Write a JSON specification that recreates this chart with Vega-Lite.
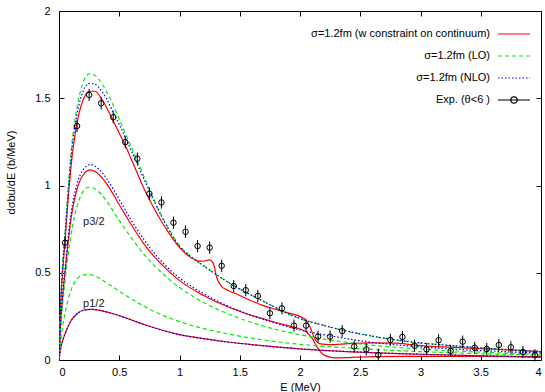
{
  "$schema": "https://vega.github.io/schema/vega-lite/v6.json",
  "width": 482,
  "height": 349,
  "autosize": {"type": "none"},
  "padding": {"left": 59, "top": 11, "right": 4, "bottom": 32},
  "background": "white",
  "config": {
    "view": {"stroke": "black", "strokeWidth": 1},
    "font": "Liberation Sans",
    "axis": {"grid": false, "domainColor": "black", "tickColor": "black", "labelColor": "black", "titleColor": "black", "labelFontSize": 11, "titleFontSize": 11, "titleFontWeight": "normal", "labelFont": "Liberation Sans", "titleFont": "Liberation Sans"},
    "legend": {"labelAlign": "right"}
  },
  "datasets": {
    "names": [
      {"m":"w","name":"σ=1.2fm (w constraint on continuum)"},
      {"m":"LO","name":"σ=1.2fm (LO)"},
      {"m":"NLO","name":"σ=1.2fm (NLO)"},
      {"m":"Exp","name":"Exp. (θ<6 )"}
    ],
    "curves": [
      {"m":"w","g":"tot","E":0,"v":0},{"m":"w","g":"tot","E":0.01,"v":0.25},{"m":"w","g":"tot","E":0.03,"v":0.5},{"m":"w","g":"tot","E":0.05,"v":0.68},{"m":"w","g":"tot","E":0.08,"v":0.96},{"m":"w","g":"tot","E":0.1,"v":1.11},{"m":"w","g":"tot","E":0.15,"v":1.36},{"m":"w","g":"tot","E":0.2,"v":1.49},{"m":"w","g":"tot","E":0.25,"v":1.54},{"m":"w","g":"tot","E":0.3,"v":1.54},{"m":"w","g":"tot","E":0.35,"v":1.5},{"m":"w","g":"tot","E":0.4,"v":1.44},{"m":"w","g":"tot","E":0.45,"v":1.37},{"m":"w","g":"tot","E":0.5,"v":1.3},{"m":"w","g":"tot","E":0.55,"v":1.23},{"m":"w","g":"tot","E":0.6,"v":1.15},{"m":"w","g":"tot","E":0.65,"v":1.07},{"m":"w","g":"tot","E":0.7,"v":0.99},{"m":"w","g":"tot","E":0.75,"v":0.92},{"m":"w","g":"tot","E":0.8,"v":0.855},{"m":"w","g":"tot","E":0.85,"v":0.795},{"m":"w","g":"tot","E":0.9,"v":0.74},{"m":"w","g":"tot","E":0.95,"v":0.69},{"m":"w","g":"tot","E":1.0,"v":0.645},{"m":"w","g":"tot","E":1.05,"v":0.61},{"m":"w","g":"tot","E":1.1,"v":0.585},{"m":"w","g":"tot","E":1.15,"v":0.568},{"m":"w","g":"tot","E":1.2,"v":0.566},{"m":"w","g":"tot","E":1.25,"v":0.574},{"m":"w","g":"tot","E":1.28,"v":0.555},{"m":"w","g":"tot","E":1.31,"v":0.47},{"m":"w","g":"tot","E":1.35,"v":0.42},{"m":"w","g":"tot","E":1.4,"v":0.4},{"m":"w","g":"tot","E":1.5,"v":0.37},{"m":"w","g":"tot","E":1.6,"v":0.338},{"m":"w","g":"tot","E":1.7,"v":0.31},{"m":"w","g":"tot","E":1.8,"v":0.29},{"m":"w","g":"tot","E":1.9,"v":0.27},{"m":"w","g":"tot","E":2.0,"v":0.25},{"m":"w","g":"tot","E":2.05,"v":0.228},{"m":"w","g":"tot","E":2.08,"v":0.195},{"m":"w","g":"tot","E":2.12,"v":0.125},{"m":"w","g":"tot","E":2.17,"v":0.092},{"m":"w","g":"tot","E":2.25,"v":0.088},{"m":"w","g":"tot","E":2.4,"v":0.094},{"m":"w","g":"tot","E":2.6,"v":0.098},{"m":"w","g":"tot","E":2.8,"v":0.097},{"m":"w","g":"tot","E":2.9,"v":0.09},{"m":"w","g":"tot","E":3.0,"v":0.082},{"m":"w","g":"tot","E":3.2,"v":0.075},{"m":"w","g":"tot","E":3.5,"v":0.065},{"m":"w","g":"tot","E":3.8,"v":0.055},{"m":"w","g":"tot","E":4.0,"v":0.048},

      {"m":"LO","g":"tot","E":0,"v":0},{"m":"LO","g":"tot","E":0.01,"v":0.27},{"m":"LO","g":"tot","E":0.03,"v":0.55},{"m":"LO","g":"tot","E":0.05,"v":0.73},{"m":"LO","g":"tot","E":0.08,"v":1.02},{"m":"LO","g":"tot","E":0.1,"v":1.19},{"m":"LO","g":"tot","E":0.15,"v":1.45},{"m":"LO","g":"tot","E":0.2,"v":1.59},{"m":"LO","g":"tot","E":0.25,"v":1.64},{"m":"LO","g":"tot","E":0.3,"v":1.63},{"m":"LO","g":"tot","E":0.35,"v":1.59},{"m":"LO","g":"tot","E":0.4,"v":1.53},{"m":"LO","g":"tot","E":0.45,"v":1.46},{"m":"LO","g":"tot","E":0.5,"v":1.38},{"m":"LO","g":"tot","E":0.6,"v":1.22},{"m":"LO","g":"tot","E":0.7,"v":1.06},{"m":"LO","g":"tot","E":0.8,"v":0.9},{"m":"LO","g":"tot","E":0.9,"v":0.765},{"m":"LO","g":"tot","E":1.0,"v":0.655},{"m":"LO","g":"tot","E":1.1,"v":0.59},{"m":"LO","g":"tot","E":1.2,"v":0.54},{"m":"LO","g":"tot","E":1.3,"v":0.492},{"m":"LO","g":"tot","E":1.4,"v":0.447},{"m":"LO","g":"tot","E":1.5,"v":0.407},{"m":"LO","g":"tot","E":1.6,"v":0.37},{"m":"LO","g":"tot","E":1.7,"v":0.335},{"m":"LO","g":"tot","E":1.8,"v":0.3},{"m":"LO","g":"tot","E":1.9,"v":0.265},{"m":"LO","g":"tot","E":2.0,"v":0.237},{"m":"LO","g":"tot","E":2.2,"v":0.197},{"m":"LO","g":"tot","E":2.4,"v":0.163},{"m":"LO","g":"tot","E":2.6,"v":0.136},{"m":"LO","g":"tot","E":2.8,"v":0.114},{"m":"LO","g":"tot","E":3.0,"v":0.097},{"m":"LO","g":"tot","E":3.2,"v":0.085},{"m":"LO","g":"tot","E":3.5,"v":0.07},{"m":"LO","g":"tot","E":3.8,"v":0.056},{"m":"LO","g":"tot","E":4.0,"v":0.048},

      {"m":"NLO","g":"tot","E":0,"v":0},{"m":"NLO","g":"tot","E":0.01,"v":0.26},{"m":"NLO","g":"tot","E":0.03,"v":0.53},{"m":"NLO","g":"tot","E":0.05,"v":0.71},{"m":"NLO","g":"tot","E":0.08,"v":1.0},{"m":"NLO","g":"tot","E":0.1,"v":1.16},{"m":"NLO","g":"tot","E":0.15,"v":1.41},{"m":"NLO","g":"tot","E":0.2,"v":1.54},{"m":"NLO","g":"tot","E":0.25,"v":1.585},{"m":"NLO","g":"tot","E":0.3,"v":1.58},{"m":"NLO","g":"tot","E":0.35,"v":1.545},{"m":"NLO","g":"tot","E":0.4,"v":1.49},{"m":"NLO","g":"tot","E":0.45,"v":1.42},{"m":"NLO","g":"tot","E":0.5,"v":1.35},{"m":"NLO","g":"tot","E":0.6,"v":1.2},{"m":"NLO","g":"tot","E":0.7,"v":1.045},{"m":"NLO","g":"tot","E":0.8,"v":0.895},{"m":"NLO","g":"tot","E":0.9,"v":0.76},{"m":"NLO","g":"tot","E":1.0,"v":0.652},{"m":"NLO","g":"tot","E":1.1,"v":0.59},{"m":"NLO","g":"tot","E":1.2,"v":0.54},{"m":"NLO","g":"tot","E":1.3,"v":0.492},{"m":"NLO","g":"tot","E":1.4,"v":0.447},{"m":"NLO","g":"tot","E":1.5,"v":0.407},{"m":"NLO","g":"tot","E":1.6,"v":0.37},{"m":"NLO","g":"tot","E":1.7,"v":0.335},{"m":"NLO","g":"tot","E":1.8,"v":0.3},{"m":"NLO","g":"tot","E":1.9,"v":0.266},{"m":"NLO","g":"tot","E":2.0,"v":0.238},{"m":"NLO","g":"tot","E":2.2,"v":0.198},{"m":"NLO","g":"tot","E":2.4,"v":0.164},{"m":"NLO","g":"tot","E":2.6,"v":0.137},{"m":"NLO","g":"tot","E":2.8,"v":0.115},{"m":"NLO","g":"tot","E":3.0,"v":0.098},{"m":"NLO","g":"tot","E":3.2,"v":0.086},{"m":"NLO","g":"tot","E":3.5,"v":0.07},{"m":"NLO","g":"tot","E":3.8,"v":0.056},{"m":"NLO","g":"tot","E":4.0,"v":0.048},

      {"m":"w","g":"p32","E":0,"v":0},{"m":"w","g":"p32","E":0.01,"v":0.16},{"m":"w","g":"p32","E":0.03,"v":0.36},{"m":"w","g":"p32","E":0.05,"v":0.5},{"m":"w","g":"p32","E":0.1,"v":0.81},{"m":"w","g":"p32","E":0.15,"v":0.98},{"m":"w","g":"p32","E":0.2,"v":1.06},{"m":"w","g":"p32","E":0.26,"v":1.09},{"m":"w","g":"p32","E":0.3,"v":1.08},{"m":"w","g":"p32","E":0.35,"v":1.05},{"m":"w","g":"p32","E":0.4,"v":1.005},{"m":"w","g":"p32","E":0.5,"v":0.89},{"m":"w","g":"p32","E":0.6,"v":0.775},{"m":"w","g":"p32","E":0.7,"v":0.67},{"m":"w","g":"p32","E":0.8,"v":0.585},{"m":"w","g":"p32","E":0.9,"v":0.515},{"m":"w","g":"p32","E":1.0,"v":0.455},{"m":"w","g":"p32","E":1.2,"v":0.37},{"m":"w","g":"p32","E":1.4,"v":0.305},{"m":"w","g":"p32","E":1.6,"v":0.255},{"m":"w","g":"p32","E":1.8,"v":0.215},{"m":"w","g":"p32","E":1.9,"v":0.197},{"m":"w","g":"p32","E":2.0,"v":0.178},{"m":"w","g":"p32","E":2.05,"v":0.162},{"m":"w","g":"p32","E":2.1,"v":0.125},{"m":"w","g":"p32","E":2.15,"v":0.065},{"m":"w","g":"p32","E":2.2,"v":0.028},{"m":"w","g":"p32","E":2.3,"v":0.012},{"m":"w","g":"p32","E":2.4,"v":0.014},{"m":"w","g":"p32","E":2.6,"v":0.019},{"m":"w","g":"p32","E":3.0,"v":0.021},{"m":"w","g":"p32","E":3.5,"v":0.02},{"m":"w","g":"p32","E":4.0,"v":0.018},

      {"m":"NLO","g":"p32","E":0,"v":0},{"m":"NLO","g":"p32","E":0.01,"v":0.17},{"m":"NLO","g":"p32","E":0.03,"v":0.37},{"m":"NLO","g":"p32","E":0.05,"v":0.52},{"m":"NLO","g":"p32","E":0.1,"v":0.84},{"m":"NLO","g":"p32","E":0.15,"v":1.01},{"m":"NLO","g":"p32","E":0.2,"v":1.09},{"m":"NLO","g":"p32","E":0.26,"v":1.12},{"m":"NLO","g":"p32","E":0.3,"v":1.11},{"m":"NLO","g":"p32","E":0.35,"v":1.08},{"m":"NLO","g":"p32","E":0.4,"v":1.035},{"m":"NLO","g":"p32","E":0.5,"v":0.92},{"m":"NLO","g":"p32","E":0.6,"v":0.8},{"m":"NLO","g":"p32","E":0.7,"v":0.695},{"m":"NLO","g":"p32","E":0.8,"v":0.605},{"m":"NLO","g":"p32","E":0.9,"v":0.53},{"m":"NLO","g":"p32","E":1.0,"v":0.47},{"m":"NLO","g":"p32","E":1.2,"v":0.38},{"m":"NLO","g":"p32","E":1.4,"v":0.31},{"m":"NLO","g":"p32","E":1.6,"v":0.255},{"m":"NLO","g":"p32","E":1.8,"v":0.21},{"m":"NLO","g":"p32","E":2.0,"v":0.172},{"m":"NLO","g":"p32","E":2.2,"v":0.145},{"m":"NLO","g":"p32","E":2.5,"v":0.11},{"m":"NLO","g":"p32","E":3.0,"v":0.075},{"m":"NLO","g":"p32","E":3.5,"v":0.054},{"m":"NLO","g":"p32","E":4.0,"v":0.04},

      {"m":"LO","g":"p32","E":0,"v":0},{"m":"LO","g":"p32","E":0.01,"v":0.14},{"m":"LO","g":"p32","E":0.03,"v":0.32},{"m":"LO","g":"p32","E":0.05,"v":0.45},{"m":"LO","g":"p32","E":0.1,"v":0.72},{"m":"LO","g":"p32","E":0.15,"v":0.88},{"m":"LO","g":"p32","E":0.2,"v":0.965},{"m":"LO","g":"p32","E":0.25,"v":0.99},{"m":"LO","g":"p32","E":0.3,"v":0.98},{"m":"LO","g":"p32","E":0.35,"v":0.95},{"m":"LO","g":"p32","E":0.4,"v":0.905},{"m":"LO","g":"p32","E":0.5,"v":0.8},{"m":"LO","g":"p32","E":0.6,"v":0.7},{"m":"LO","g":"p32","E":0.7,"v":0.61},{"m":"LO","g":"p32","E":0.8,"v":0.535},{"m":"LO","g":"p32","E":0.9,"v":0.47},{"m":"LO","g":"p32","E":1.0,"v":0.415},{"m":"LO","g":"p32","E":1.2,"v":0.33},{"m":"LO","g":"p32","E":1.4,"v":0.265},{"m":"LO","g":"p32","E":1.6,"v":0.215},{"m":"LO","g":"p32","E":1.8,"v":0.175},{"m":"LO","g":"p32","E":2.0,"v":0.145},{"m":"LO","g":"p32","E":2.2,"v":0.12},{"m":"LO","g":"p32","E":2.5,"v":0.092},{"m":"LO","g":"p32","E":3.0,"v":0.063},{"m":"LO","g":"p32","E":3.5,"v":0.045},{"m":"LO","g":"p32","E":4.0,"v":0.033},

      {"m":"LO","g":"p12","E":0,"v":0},{"m":"LO","g":"p12","E":0.01,"v":0.08},{"m":"LO","g":"p12","E":0.03,"v":0.19},{"m":"LO","g":"p12","E":0.05,"v":0.27},{"m":"LO","g":"p12","E":0.1,"v":0.4},{"m":"LO","g":"p12","E":0.15,"v":0.465},{"m":"LO","g":"p12","E":0.2,"v":0.488},{"m":"LO","g":"p12","E":0.25,"v":0.49},{"m":"LO","g":"p12","E":0.3,"v":0.48},{"m":"LO","g":"p12","E":0.4,"v":0.44},{"m":"LO","g":"p12","E":0.5,"v":0.395},{"m":"LO","g":"p12","E":0.6,"v":0.35},{"m":"LO","g":"p12","E":0.7,"v":0.31},{"m":"LO","g":"p12","E":0.8,"v":0.275},{"m":"LO","g":"p12","E":0.9,"v":0.245},{"m":"LO","g":"p12","E":1.0,"v":0.22},{"m":"LO","g":"p12","E":1.2,"v":0.18},{"m":"LO","g":"p12","E":1.4,"v":0.15},{"m":"LO","g":"p12","E":1.6,"v":0.125},{"m":"LO","g":"p12","E":1.8,"v":0.105},{"m":"LO","g":"p12","E":2.0,"v":0.09},{"m":"LO","g":"p12","E":2.5,"v":0.065},{"m":"LO","g":"p12","E":3.0,"v":0.048},{"m":"LO","g":"p12","E":3.5,"v":0.036},{"m":"LO","g":"p12","E":4.0,"v":0.028},

      {"m":"w","g":"p12","E":0,"v":0},{"m":"w","g":"p12","E":0.01,"v":0.05},{"m":"w","g":"p12","E":0.03,"v":0.11},{"m":"w","g":"p12","E":0.05,"v":0.15},{"m":"w","g":"p12","E":0.1,"v":0.225},{"m":"w","g":"p12","E":0.15,"v":0.265},{"m":"w","g":"p12","E":0.2,"v":0.285},{"m":"w","g":"p12","E":0.27,"v":0.29},{"m":"w","g":"p12","E":0.35,"v":0.283},{"m":"w","g":"p12","E":0.45,"v":0.265},{"m":"w","g":"p12","E":0.55,"v":0.242},{"m":"w","g":"p12","E":0.7,"v":0.205},{"m":"w","g":"p12","E":0.85,"v":0.172},{"m":"w","g":"p12","E":1.0,"v":0.145},{"m":"w","g":"p12","E":1.2,"v":0.122},{"m":"w","g":"p12","E":1.4,"v":0.103},{"m":"w","g":"p12","E":1.6,"v":0.088},{"m":"w","g":"p12","E":1.8,"v":0.075},{"m":"w","g":"p12","E":2.0,"v":0.064},{"m":"w","g":"p12","E":2.5,"v":0.045},{"m":"w","g":"p12","E":3.0,"v":0.033},{"m":"w","g":"p12","E":3.5,"v":0.024},{"m":"w","g":"p12","E":4.0,"v":0.017},

      {"m":"NLO","g":"p12","E":0,"v":0},{"m":"NLO","g":"p12","E":0.01,"v":0.05},{"m":"NLO","g":"p12","E":0.03,"v":0.11},{"m":"NLO","g":"p12","E":0.05,"v":0.15},{"m":"NLO","g":"p12","E":0.1,"v":0.225},{"m":"NLO","g":"p12","E":0.15,"v":0.265},{"m":"NLO","g":"p12","E":0.2,"v":0.285},{"m":"NLO","g":"p12","E":0.27,"v":0.29},{"m":"NLO","g":"p12","E":0.35,"v":0.283},{"m":"NLO","g":"p12","E":0.45,"v":0.265},{"m":"NLO","g":"p12","E":0.55,"v":0.242},{"m":"NLO","g":"p12","E":0.7,"v":0.205},{"m":"NLO","g":"p12","E":0.85,"v":0.172},{"m":"NLO","g":"p12","E":1.0,"v":0.145},{"m":"NLO","g":"p12","E":1.2,"v":0.122},{"m":"NLO","g":"p12","E":1.4,"v":0.103},{"m":"NLO","g":"p12","E":1.6,"v":0.088},{"m":"NLO","g":"p12","E":1.8,"v":0.075},{"m":"NLO","g":"p12","E":2.0,"v":0.064},{"m":"NLO","g":"p12","E":2.5,"v":0.045},{"m":"NLO","g":"p12","E":3.0,"v":0.033},{"m":"NLO","g":"p12","E":3.5,"v":0.024},{"m":"NLO","g":"p12","E":4.0,"v":0.017}
    ],
    "exp": [
      {"m":"Exp","E":0.05,"v":0.672,"err":0.035},{"m":"Exp","E":0.15,"v":1.341,"err":0.035},{"m":"Exp","E":0.25,"v":1.519,"err":0.035},{"m":"Exp","E":0.35,"v":1.471,"err":0.035},{"m":"Exp","E":0.45,"v":1.391,"err":0.035},{"m":"Exp","E":0.55,"v":1.248,"err":0.035},{"m":"Exp","E":0.65,"v":1.154,"err":0.035},{"m":"Exp","E":0.75,"v":0.953,"err":0.035},{"m":"Exp","E":0.85,"v":0.903,"err":0.035},{"m":"Exp","E":0.95,"v":0.787,"err":0.035},
      {"m":"Exp","E":1.05,"v":0.735,"err":0.035},{"m":"Exp","E":1.15,"v":0.653,"err":0.035},{"m":"Exp","E":1.25,"v":0.644,"err":0.035},{"m":"Exp","E":1.35,"v":0.54,"err":0.035},{"m":"Exp","E":1.45,"v":0.424,"err":0.035},{"m":"Exp","E":1.55,"v":0.4,"err":0.035},{"m":"Exp","E":1.65,"v":0.367,"err":0.035},{"m":"Exp","E":1.75,"v":0.268,"err":0.035},{"m":"Exp","E":1.85,"v":0.296,"err":0.035},{"m":"Exp","E":1.95,"v":0.197,"err":0.035},
      {"m":"Exp","E":2.05,"v":0.197,"err":0.035},{"m":"Exp","E":2.15,"v":0.134,"err":0.035},{"m":"Exp","E":2.25,"v":0.134,"err":0.035},{"m":"Exp","E":2.35,"v":0.166,"err":0.035},{"m":"Exp","E":2.45,"v":0.078,"err":0.035},{"m":"Exp","E":2.55,"v":0.061,"err":0.035},{"m":"Exp","E":2.65,"v":0.029,"err":0.035},{"m":"Exp","E":2.75,"v":0.115,"err":0.035},{"m":"Exp","E":2.85,"v":0.132,"err":0.035},{"m":"Exp","E":2.95,"v":0.082,"err":0.035},
      {"m":"Exp","E":3.05,"v":0.061,"err":0.035},{"m":"Exp","E":3.15,"v":0.113,"err":0.035},{"m":"Exp","E":3.25,"v":0.052,"err":0.035},{"m":"Exp","E":3.35,"v":0.105,"err":0.035},{"m":"Exp","E":3.45,"v":0.07,"err":0.035},{"m":"Exp","E":3.55,"v":0.063,"err":0.035},{"m":"Exp","E":3.65,"v":0.086,"err":0.035},{"m":"Exp","E":3.75,"v":0.073,"err":0.035},{"m":"Exp","E":3.85,"v":0.046,"err":0.035},{"m":"Exp","E":3.95,"v":0.027,"err":0.035}
    ],
    "labels": [
      {"E":0.2,"v":0.79,"t":"p3/2"},
      {"E":0.2,"v":0.32,"t":"p1/2"}
    ]
  },
  "layer": [
    {
      "data": {"name": "curves"},
      "transform": [{"filter": "datum.m == 'w'"}, {"lookup": "m", "from": {"data": {"name": "names"}, "key": "m", "fields": ["name"]}}],
      "mark": {"type": "line", "interpolate": "monotone", "strokeWidth": 1.2, "clip": true},
      "encoding": {
        "x": {"field": "E", "type": "quantitative", "scale": {"domain": [0, 4], "nice": false},
              "axis": {"orient": "bottom", "title": "E (MeV)", "values": [0,0.5,1,1.5,2,2.5,3,3.5,4], "format": "~g", "tickSize": -5, "labelPadding": 11, "titlePadding": 4, "domain": false}},
        "y": {"field": "v", "type": "quantitative", "scale": {"domain": [0, 2], "nice": false},
              "axis": {"orient": "left", "title": "dσbu/dE (b/MeV)", "titleY": 161, "values": [0,0.5,1,1.5,2], "format": "~g", "tickSize": -5, "labelPadding": 14, "titlePadding": 18, "domain": false}},
        "color": {"field": "name", "type": "nominal",
                  "scale": {"domain": ["σ=1.2fm (w constraint on continuum)","σ=1.2fm (LO)","σ=1.2fm (NLO)","Exp. (θ<6 )"], "range": ["#ff0000","#00ee00","#0000ff","#000000"]},
                  "legend": {"orient": "none", "legendX": 241, "legendY": 6, "title": null, "padding": 0,
                             "labelFontSize": 11, "labelFont": "Liberation Sans", "labelColor": "black",
                             "symbolType": "stroke", "symbolSize": 1024, "symbolStrokeWidth": 1.2, "labelAlign": "right",
                             "labelOffset": -41, "symbolOffset": 197, "rowPadding": -10, "labelLimit": 400,
                             "encode": {
                               "labels": {"update": {"align": {"value": "right"}}},
                               "symbols": {"update": {
                               "shape": {"signal": "datum.value=='Exp. (θ<6 )' ? 'M-1,0H1M0.2,0A0.2,0.2,0,1,1,-0.2,0A0.2,0.2,0,1,1,0.2,0' : 'stroke'"},
                               "strokeDash": {"signal": "datum.value=='σ=1.2fm (LO)' ? [4,3] : datum.value=='σ=1.2fm (NLO)' ? [1.5,2] : [1,0]"},
                               "fill": {"value": "transparent"}}}}}},
        "detail": {"field": "g"}
      }
    },
    {
      "data": {"name": "curves"},
      "transform": [{"filter": "datum.m == 'LO'"}, {"lookup": "m", "from": {"data": {"name": "names"}, "key": "m", "fields": ["name"]}}],
      "mark": {"type": "line", "interpolate": "monotone", "strokeWidth": 1.2, "clip": true, "strokeDash": [4, 3]},
      "encoding": {
        "x": {"field": "E", "type": "quantitative", "axis": null},
        "y": {"field": "v", "type": "quantitative", "axis": null},
        "color": {"field": "name", "type": "nominal"},
        "detail": {"field": "g"}
      }
    },
    {
      "data": {"name": "curves"},
      "transform": [{"filter": "datum.m == 'NLO'"}, {"lookup": "m", "from": {"data": {"name": "names"}, "key": "m", "fields": ["name"]}}],
      "mark": {"type": "line", "interpolate": "monotone", "strokeWidth": 1.2, "clip": true, "strokeDash": [1.5, 2]},
      "encoding": {
        "x": {"field": "E", "type": "quantitative", "axis": null},
        "y": {"field": "v", "type": "quantitative", "axis": null},
        "color": {"field": "name", "type": "nominal"},
        "detail": {"field": "g"}
      }
    },
    {
      "data": {"name": "exp"},
      "mark": {"type": "errorbar", "ticks": false, "color": "black", "thickness": 1},
      "encoding": {
        "x": {"field": "E", "type": "quantitative", "axis": null},
        "y": {"field": "v", "type": "quantitative", "axis": null},
        "yError": {"field": "err"}
      }
    },
    {
      "data": {"name": "exp"},
      "transform": [{"lookup": "m", "from": {"data": {"name": "names"}, "key": "m", "fields": ["name"]}}],
      "mark": {"type": "point", "shape": "circle", "filled": false, "size": 30, "strokeWidth": 1, "opacity": 1},
      "encoding": {
        "x": {"field": "E", "type": "quantitative", "axis": null},
        "y": {"field": "v", "type": "quantitative", "axis": null},
        "color": {"field": "name", "type": "nominal"}
      }
    },
    {
      "data": {"name": "labels"},
      "mark": {"type": "text", "align": "left", "baseline": "middle", "fontSize": 11, "font": "Liberation Sans", "color": "#222222"},
      "encoding": {
        "x": {"field": "E", "type": "quantitative", "axis": {"orient": "top", "labels": false, "title": null, "values": [0,0.5,1,1.5,2,2.5,3,3.5,4], "tickSize": -5, "domain": false}},
        "y": {"field": "v", "type": "quantitative", "axis": {"orient": "right", "labels": false, "title": null, "values": [0,0.5,1,1.5,2], "tickSize": -5, "domain": false}},
        "text": {"field": "t"}
      }
    }
  ],
  "resolve": {"axis": {"x": "independent", "y": "independent"}}
}
